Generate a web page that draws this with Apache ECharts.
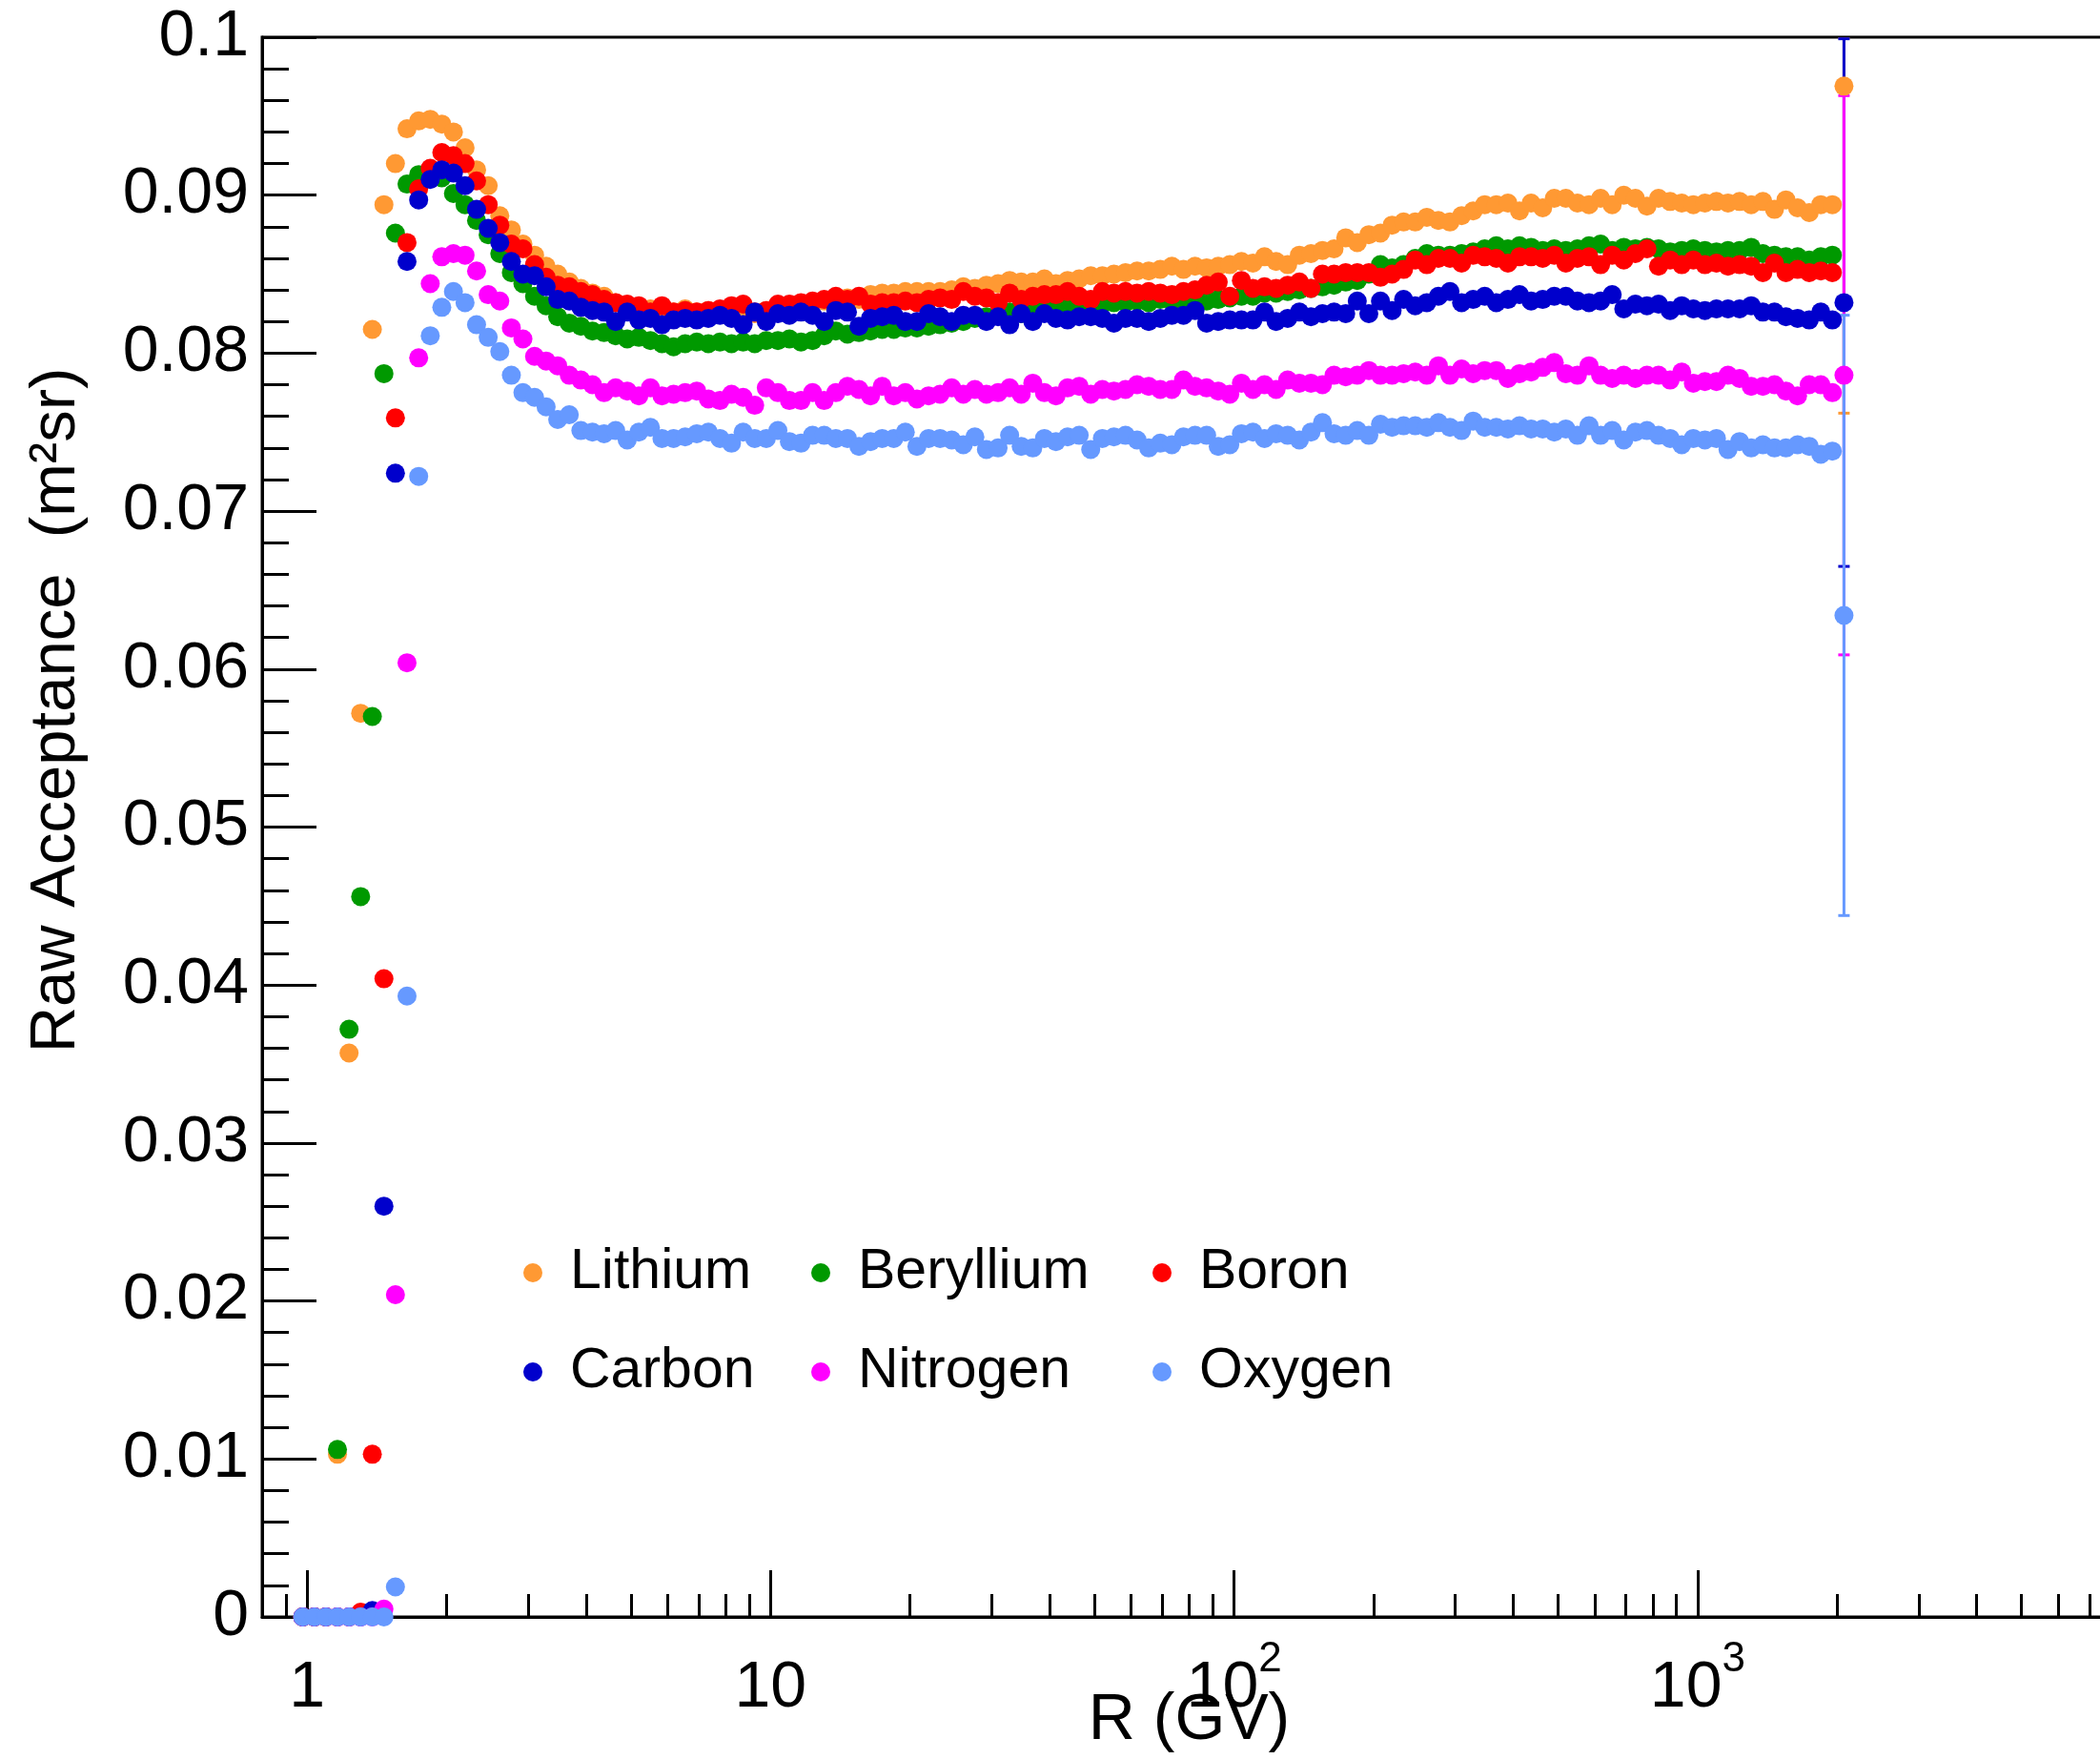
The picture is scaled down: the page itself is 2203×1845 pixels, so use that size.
<!DOCTYPE html>
<html>
<head>
<meta charset="utf-8">
<script src="https://cdn.jsdelivr.net/npm/echarts@6/dist/echarts.min.js"></script>
<style>
  html, body { margin: 0; padding: 0; background: #fff; }
  #main { width: 2203px; height: 1845px; }
</style>
</head>
<body>
<div id="main"></div>
<script>
// rigidity bin centres (GV)
const rigidity = [
  0.979, 1.037, 1.098, 1.163, 1.232, 1.305, 1.383, 1.465, 1.551, 1.643, 1.741, 1.844, 1.953, 2.069,
  2.192, 2.321, 2.459, 2.605, 2.759, 2.922, 3.096, 3.279, 3.473, 3.679, 3.897, 4.128, 4.373, 4.632,
  4.906, 5.197, 5.505, 5.831, 6.176, 6.542, 6.930, 7.341, 7.776, 8.236, 8.725, 9.242, 9.789,
  10.37, 10.98, 11.63, 12.32, 13.05, 13.83, 14.65, 15.51, 16.43, 17.41, 18.44, 19.53, 20.69, 21.92,
  23.21, 24.59, 26.05, 27.59, 29.22, 30.96, 32.79, 34.73, 36.79, 38.97, 41.28, 43.73, 46.32, 49.06,
  51.97, 55.05, 58.31, 61.76, 65.42, 69.30, 73.41, 77.76, 82.36, 87.25, 92.42, 97.89,
  103.7, 109.8, 116.3, 123.2, 130.5, 138.3, 146.5, 155.1, 164.3, 174.1, 184.4, 195.3, 206.9, 219.2,
  232.1, 245.9, 260.5, 275.9, 292.2, 309.6, 327.9, 347.3, 367.9, 389.7, 412.8, 437.3, 463.2, 490.6,
  519.7, 550.5, 583.1, 617.6, 654.2, 693.0, 734.1, 777.6, 823.6, 872.5, 924.2, 978.9,
  1037, 1098, 1163, 1232, 1305, 1383, 1465, 1551, 1643, 1741, 1844, 1953, 2069
];

const lithium = [
  0, 0, 0, 0.0103, 0.0357, 0.0572, 0.0815, 0.0894, 0.0920, 0.0942,
  0.0947, 0.0948, 0.0945, 0.0940, 0.0930, 0.0916, 0.0906, 0.0887, 0.0878, 0.0869,
  0.0862, 0.0855, 0.0850, 0.0845, 0.0841, 0.0838, 0.0836, 0.0832, 0.0830, 0.0823,
  0.0828, 0.0827, 0.0826, 0.0828, 0.0826, 0.0827, 0.0826, 0.0828, 0.0822, 0.0825,
  0.0827, 0.0829, 0.0830, 0.0830, 0.0832, 0.0833, 0.0834, 0.0835, 0.0834, 0.0837,
  0.0838, 0.0838, 0.0839, 0.0839, 0.0839, 0.0839, 0.0840, 0.0842, 0.0841, 0.0843,
  0.0844, 0.0846, 0.0845, 0.0845, 0.0847, 0.0844, 0.0846, 0.0847, 0.0849, 0.0849,
  0.0850, 0.0851, 0.0852, 0.0852, 0.0853, 0.0855, 0.0853, 0.0855, 0.0854, 0.0855,
  0.0856, 0.0858, 0.0857, 0.0861, 0.0858, 0.0856, 0.0862, 0.0863, 0.0865, 0.0866,
  0.0873, 0.0870, 0.0875, 0.0876, 0.0881, 0.0883, 0.0883, 0.0886, 0.0884, 0.0883,
  0.0887, 0.0890, 0.0894, 0.0894, 0.0895, 0.0890, 0.0895, 0.0892, 0.0898, 0.0898,
  0.0895, 0.0894, 0.0898, 0.0894, 0.0900, 0.0898, 0.0893, 0.0898, 0.0896, 0.0895,
  0.0894, 0.0895, 0.0896, 0.0895, 0.0896, 0.0894, 0.0896, 0.0891, 0.0897, 0.0892,
  0.0889, 0.0894, 0.0894, 0.0969
];

const beryllium = [
  0, 0, 0, 0.0106, 0.0372, 0.0456, 0.0570, 0.0787, 0.0876, 0.0907,
  0.0913, 0.0916, 0.0911, 0.0901, 0.0894, 0.0884, 0.0875, 0.0863, 0.0851, 0.0844,
  0.0836, 0.0830, 0.0823, 0.0819, 0.0817, 0.0814, 0.0813, 0.0811, 0.0809, 0.0810,
  0.0808, 0.0806, 0.0804, 0.0806, 0.0807, 0.0806, 0.0807, 0.0806, 0.0807, 0.0806,
  0.0808, 0.0808, 0.0809, 0.0807, 0.0808, 0.0811, 0.0814, 0.0812, 0.0813, 0.0814,
  0.0815, 0.0815, 0.0816, 0.0816, 0.0817, 0.0818, 0.0819, 0.0820, 0.0822, 0.0823,
  0.0824, 0.0826, 0.0825, 0.0826, 0.0828, 0.0829, 0.0830, 0.0830, 0.0831, 0.0831,
  0.0832, 0.0832, 0.0833, 0.0832, 0.0834, 0.0833, 0.0834, 0.0835, 0.0833, 0.0834,
  0.0835, 0.0836, 0.0836, 0.0838, 0.0838, 0.0839, 0.0840, 0.0841, 0.0842, 0.0843,
  0.0845, 0.0846, 0.0850, 0.0856, 0.0854, 0.0856, 0.0860, 0.0863, 0.0862, 0.0862,
  0.0863, 0.0864, 0.0866, 0.0868, 0.0866, 0.0868, 0.0867, 0.0865, 0.0866, 0.0865,
  0.0866, 0.0868, 0.0869, 0.0865, 0.0867, 0.0866, 0.0867, 0.0866, 0.0864, 0.0865,
  0.0866, 0.0865, 0.0864, 0.0865, 0.0865, 0.0867, 0.0863, 0.0862, 0.0861, 0.0861,
  0.0859, 0.0861, 0.0862, null
];

const boron = [
  0, 0, 0, 0, 0, 0.0003, 0.0103, 0.0404, 0.0759, 0.0870,
  0.0904, 0.0917, 0.0927, 0.0925, 0.0920, 0.0909, 0.0894, 0.0881, 0.0869, 0.0866,
  0.0856, 0.0848, 0.0843, 0.0842, 0.0839, 0.0837, 0.0834, 0.0832, 0.0831, 0.0830,
  0.0826, 0.0830, 0.0826, 0.0827, 0.0826, 0.0827, 0.0828, 0.0830, 0.0831, 0.0826,
  0.0827, 0.0831, 0.0831, 0.0832, 0.0833, 0.0834, 0.0836, 0.0834, 0.0836, 0.0831,
  0.0832, 0.0832, 0.0833, 0.0832, 0.0834, 0.0835, 0.0834, 0.0839, 0.0836, 0.0835,
  0.0832, 0.0838, 0.0834, 0.0836, 0.0837, 0.0837, 0.0839, 0.0836, 0.0834, 0.0839,
  0.0838, 0.0839, 0.0838, 0.0839, 0.0838, 0.0837, 0.0839, 0.0840, 0.0843, 0.0845,
  0.0836, 0.0846, 0.0841, 0.0842, 0.0841, 0.0843, 0.0845, 0.0841, 0.0850, 0.0850,
  0.0851, 0.0851, 0.0851, 0.0848, 0.0850, 0.0853, 0.0859, 0.0856, 0.0860, 0.0860,
  0.0857, 0.0862, 0.0861, 0.0860, 0.0857, 0.0861, 0.0861, 0.0860, 0.0862, 0.0857,
  0.0860, 0.0861, 0.0856, 0.0862, 0.0859, 0.0863, 0.0866, 0.0855, 0.0859, 0.0856,
  0.0859, 0.0856, 0.0857, 0.0855, 0.0856, 0.0855, 0.0851, 0.0857, 0.0851, 0.0853,
  0.0851, 0.0852, 0.0851, null
];

const carbon = [
  0, 0, 0, 0, 0, 0, 0.0004, 0.0260, 0.0724, 0.0858,
  0.0897, 0.0910, 0.0916, 0.0914, 0.0906, 0.0891, 0.0879, 0.0870, 0.0858, 0.0850,
  0.0849, 0.0842, 0.0834, 0.0833, 0.0829, 0.0827, 0.0826, 0.0820, 0.0826, 0.0821,
  0.0822, 0.0818, 0.0821, 0.0822, 0.0821, 0.0822, 0.0824, 0.0822, 0.0818, 0.0826,
  0.0820, 0.0825, 0.0824, 0.0826, 0.0824, 0.0820, 0.0827, 0.0826, 0.0817, 0.0822,
  0.0823, 0.0824, 0.0820, 0.0820, 0.0825, 0.0823, 0.0820, 0.0824, 0.0824, 0.0820,
  0.0823, 0.0818, 0.0825, 0.0820, 0.0825, 0.0822, 0.0821, 0.0823, 0.0823, 0.0822,
  0.0819, 0.0822, 0.0822, 0.0820, 0.0822, 0.0824, 0.0824, 0.0827, 0.0819, 0.0820,
  0.0821, 0.0821, 0.0821, 0.0826, 0.0820, 0.0822, 0.0826, 0.0823, 0.0825, 0.0826,
  0.0825, 0.0833, 0.0825, 0.0833, 0.0827, 0.0834, 0.0830, 0.0832, 0.0836, 0.0839,
  0.0832, 0.0834, 0.0836, 0.0832, 0.0834, 0.0837, 0.0833, 0.0834, 0.0836, 0.0836,
  0.0833, 0.0832, 0.0833, 0.0837, 0.0828, 0.0831, 0.0830, 0.0831, 0.0827, 0.0830,
  0.0828, 0.0827, 0.0828, 0.0828, 0.0828, 0.0830, 0.0826, 0.0826, 0.0823, 0.0822,
  0.0821, 0.0826, 0.0821, 0.0832
];

const nitrogen = [
  0, 0, 0, 0, 0, 0, 0, 0.0005, 0.0204, 0.0604,
  0.0797, 0.0844, 0.0861, 0.0863, 0.0862, 0.0852, 0.0837, 0.0833, 0.0816, 0.0809,
  0.0798, 0.0795, 0.0792, 0.0786, 0.0783, 0.0780, 0.0775, 0.0778, 0.0776, 0.0773,
  0.0778, 0.0773, 0.0774, 0.0775, 0.0776, 0.0771, 0.0770, 0.0774, 0.0772, 0.0767,
  0.0778, 0.0775, 0.0770, 0.0770, 0.0775, 0.0770, 0.0775, 0.0779, 0.0777, 0.0773,
  0.0779, 0.0773, 0.0775, 0.0771, 0.0773, 0.0774, 0.0778, 0.0774, 0.0777, 0.0774,
  0.0775, 0.0778, 0.0774, 0.0781, 0.0775, 0.0773, 0.0778, 0.0779, 0.0774, 0.0777,
  0.0776, 0.0777, 0.0780, 0.0779, 0.0777, 0.0777, 0.0783, 0.0779, 0.0778, 0.0776,
  0.0774, 0.0781, 0.0777, 0.0780, 0.0777, 0.0783, 0.0781, 0.0781, 0.0780, 0.0786,
  0.0785, 0.0786, 0.0789, 0.0786, 0.0786, 0.0787, 0.0788, 0.0786, 0.0792, 0.0786,
  0.0790, 0.0787, 0.0789, 0.0789, 0.0784, 0.0787, 0.0788, 0.0791, 0.0794, 0.0787,
  0.0786, 0.0792, 0.0786, 0.0784, 0.0786, 0.0784, 0.0786, 0.0786, 0.0783, 0.0788,
  0.0781, 0.0782, 0.0782, 0.0786, 0.0784, 0.0779, 0.0779, 0.0780, 0.0776, 0.0773,
  0.0780, 0.0780, 0.0775, 0.0786
];

const oxygen = [
  0, 0, 0, 0, 0, 0, 0, 0, 0.0019, 0.0393,
  0.0722, 0.0811, 0.0829, 0.0839, 0.0832, 0.0818, 0.0810, 0.0801, 0.0786, 0.0775,
  0.0772, 0.0766, 0.0758, 0.0761, 0.0751, 0.0750, 0.0749, 0.0751, 0.0745, 0.0750,
  0.0753, 0.0746, 0.0746, 0.0747, 0.0749, 0.0750, 0.0746, 0.0743, 0.0750, 0.0746,
  0.0746, 0.0751, 0.0744, 0.0743, 0.0748, 0.0748, 0.0746, 0.0746, 0.0741, 0.0744,
  0.0746, 0.0746, 0.0750, 0.0741, 0.0746, 0.0746, 0.0745, 0.0742, 0.0747, 0.0739,
  0.0740, 0.0748, 0.0741, 0.0740, 0.0746, 0.0744, 0.0747, 0.0748, 0.0739, 0.0746,
  0.0747, 0.0748, 0.0745, 0.0740, 0.0743, 0.0742, 0.0747, 0.0748, 0.0748, 0.0741,
  0.0742, 0.0749, 0.0750, 0.0746, 0.0749, 0.0748, 0.0745, 0.0750, 0.0756, 0.0749,
  0.0748, 0.0751, 0.0748, 0.0755, 0.0753, 0.0754, 0.0754, 0.0753, 0.0756, 0.0753,
  0.0751, 0.0757, 0.0753, 0.0753, 0.0752, 0.0754, 0.0752, 0.0752, 0.0750, 0.0752,
  0.0748, 0.0754, 0.0748, 0.0751, 0.0745, 0.0750, 0.0751, 0.0748, 0.0746, 0.0742,
  0.0746, 0.0745, 0.0746, 0.0739, 0.0744, 0.0740, 0.0742, 0.0740, 0.0740, 0.0742,
  0.0741, 0.0736, 0.0738, 0.0634
];

const names = ['Lithium', 'Beryllium', 'Boron', 'Carbon', 'Nitrogen', 'Oxygen'];
const colors = ['#ff9933', '#009900', '#ff0000', '#0000cc', '#ff00ff', '#6699ff'];
// error on the last (highest rigidity) bin, null where that bin is not drawn
const lastBinError = [0.0207, null, null, 0.0167, 0.0177, 0.0190];

const majorTicks = [1, 10, 100, 1000];
const tickLabels = ['{b|1}', '{b|10}', '{b|10}{s|2}', '{b|10}{s|3}'];
const minorTicks = [0.9, 2, 3, 4, 5, 6, 7, 8, 9, 20, 30, 40, 50, 60, 70, 80, 90,
  200, 300, 400, 500, 600, 700, 800, 900, 2000, 3000, 4000, 5000, 6000, 7000, 8000];

const FONT = '"Liberation Sans", Arial, Helvetica, sans-serif';
const yMax = 0.1;
const black = { color: '#000', width: 3 };

let chartDom = document.getElementById('main');
let myChart = echarts.init(chartDom);

const allValues = [lithium, beryllium, boron, carbon, nitrogen, oxygen];
const series = [];

// error bars first, so the markers sit on top of them
names.forEach((name, k) => {
  if (lastBinError[k] === null) return;
  const vals = allValues[k];
  const last = vals.length - 1;
  const col = colors[k];
  series.push({
    type: 'custom',
    name: name + ' err',
    clip: true,
    silent: true,
    encode: { x: 0, y: 1 },
    data: [[rigidity[last], vals[last], vals[last] - lastBinError[k], vals[last] + lastBinError[k]]],
    renderItem: (params, api) => {
      const x = api.value(0);
      const lo = api.coord([x, api.value(2)]);
      const hi = api.coord([x, Math.min(api.value(3), yMax)]);
      const st = { stroke: col, lineWidth: 3 };
      return {
        type: 'group',
        children: [
          { type: 'line', shape: { x1: lo[0], y1: lo[1], x2: hi[0], y2: hi[1] }, style: st },
          { type: 'line', shape: { x1: lo[0] - 6, y1: lo[1], x2: lo[0] + 6, y2: lo[1] }, style: st },
          { type: 'line', shape: { x1: hi[0] - 6, y1: hi[1], x2: hi[0] + 6, y2: hi[1] }, style: st }
        ]
      };
    }
  });
});

names.forEach((name, k) => {
  const vals = allValues[k];
  const pts = [];
  rigidity.forEach((r, i) => {
    if (vals[i] !== null) pts.push([r, vals[i]]);
  });
  series.push({
    name: name,
    type: 'scatter',
    data: pts,
    symbol: 'circle',
    symbolSize: 20,
    clip: false,
    silent: true,
    itemStyle: { color: colors[k], opacity: 1, borderWidth: 0 }
  });
});

const legendCommon = {
  orient: 'vertical',
  icon: 'circle',
  itemWidth: 20,
  itemHeight: 20,
  itemGap: 44,
  padding: 0,
  selectedMode: false,
  textStyle: { fontSize: 59, color: '#000', fontFamily: FONT, lineHeight: 60, padding: [0, 0, 0, 24] }
};

const option = {
  animation: false,
  backgroundColor: '#fff',
  textStyle: { fontFamily: FONT },
  grid: {
    left: 275, top: 39, width: 1945, height: 1657,
    show: true, borderColor: '#000', borderWidth: 3, backgroundColor: 'transparent',
    containLabel: false, outerBoundsMode: 'none'
  },
  legend: [
    Object.assign({ data: ['Lithium', 'Carbon'], left: 549, top: 1305 }, legendCommon),
    Object.assign({ data: ['Beryllium', 'Nitrogen'], left: 851, top: 1305 }, legendCommon),
    Object.assign({ data: ['Boron', 'Oxygen'], left: 1209, top: 1305 }, legendCommon)
  ],
  xAxis: [
    {
      type: 'log', min: 0.8, max: 8000, position: 'bottom',
      axisLine: { show: true, onZero: false, lineStyle: black },
      axisTick: { show: true, inside: true, length: 49, customValues: majorTicks, lineStyle: black },
      minorTick: { show: false },
      splitLine: { show: false },
      axisLabel: {
        show: true, margin: 23, customValues: majorTicks,
        formatter: (v) => tickLabels[Math.round(Math.log10(v))],
        rich: {
          b: { fontSize: 68, color: '#000', fontFamily: FONT, lineHeight: 86, verticalAlign: 'bottom' },
          s: { fontSize: 44, color: '#000', fontFamily: FONT, lineHeight: 44, verticalAlign: 'top' }
        }
      },
      name: 'R (GV)', nameLocation: 'middle', nameGap: 75, nameMoveOverlap: false,
      nameTextStyle: { fontSize: 68, color: '#000', fontFamily: FONT, lineHeight: 68 }
    },
    {
      type: 'log', min: 0.8, max: 8000, position: 'bottom',
      axisLine: { show: false },
      axisTick: { show: true, inside: true, length: 24, customValues: minorTicks, lineStyle: black },
      axisLabel: { show: false },
      splitLine: { show: false }
    }
  ],
  yAxis: {
    type: 'value', min: 0, max: yMax, interval: 0.01,
    axisLine: { show: true, onZero: false, lineStyle: black },
    axisTick: { show: true, inside: true, length: 57, lineStyle: black },
    minorTick: { show: true, splitNumber: 5, length: 28, lineStyle: black },
    splitLine: { show: false },
    axisLabel: {
      margin: 14, fontSize: 68, color: '#000', fontFamily: FONT,
      formatter: (v) => String(+v.toFixed(3))
    }
  },
  graphic: [{
    type: 'text', x: 60, y: 745, rotation: Math.PI / 2,
    style: {
      text: 'Raw Acceptance  (m²sr)', fontSize: 67, fontFamily: FONT, fill: '#000',
      align: 'center', verticalAlign: 'middle'
    }
  }],
  series: series
};

myChart.setOption(option);
</script>
</body>
</html>
